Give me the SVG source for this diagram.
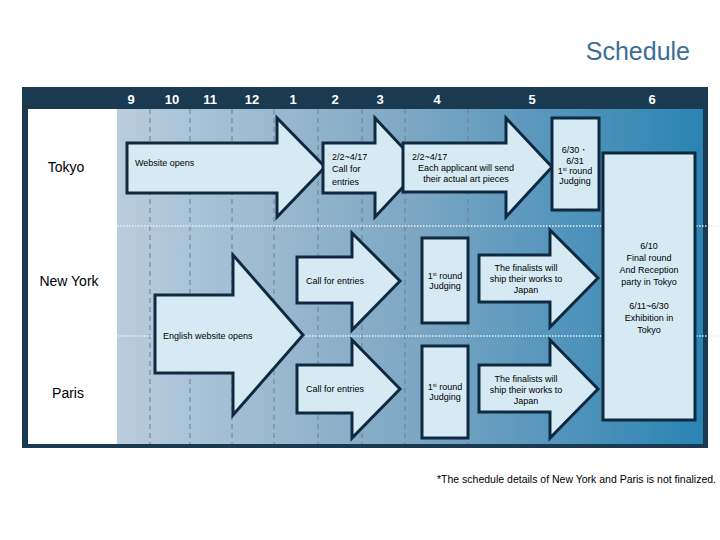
<svg xmlns="http://www.w3.org/2000/svg" width="720" height="540" viewBox="0 0 720 540">
<style>
text{font-family:"Liberation Sans",Arial,sans-serif;}
.m{fill:#fff;font-size:13px;font-weight:bold;text-anchor:middle;}
.city{fill:#000;font-size:14px;text-anchor:middle;}
.s{fill:#000;font-size:9px;}
.c{text-anchor:middle;}
.shape{fill:#d6eaf4;stroke:#0f2a40;stroke-width:3;stroke-linejoin:miter;}
.dash{stroke:#6a7f92;stroke-width:1;stroke-dasharray:5,4;}
.dot{stroke:#e8f1f8;stroke-width:1.5;stroke-dasharray:1.5,1.5;}
</style>
<defs>
<linearGradient id="g" x1="0" y1="0" x2="1" y2="0">
<stop offset="0" stop-color="#b9cddd"/>
<stop offset="0.5" stop-color="#7ea7c4"/>
<stop offset="1" stop-color="#2a84b3"/>
</linearGradient>
</defs>
<rect width="720" height="540" fill="#fff"/>
<text x="690" y="60" font-size="25" fill="#3b6e95" text-anchor="end">Schedule</text>
<rect x="22" y="87" width="686" height="361" fill="#1a3a52"/>
<rect x="28" y="109" width="89" height="335" fill="#fff"/>
<rect x="117" y="109" width="586" height="335" fill="url(#g)"/>
<g id="months">
<text class="m" x="131" y="104">9</text>
<text class="m" x="172" y="104">10</text>
<text class="m" x="210" y="104">11</text>
<text class="m" x="252" y="104">12</text>
<text class="m" x="293" y="104">1</text>
<text class="m" x="335" y="104">2</text>
<text class="m" x="380" y="104">3</text>
<text class="m" x="437" y="104">4</text>
<text class="m" x="532" y="104">5</text>
<text class="m" x="652" y="104">6</text>
</g>
<g id="grid">
<line class="dash" x1="150" y1="109" x2="150" y2="444"/>
<line class="dash" x1="190" y1="109" x2="190" y2="444"/>
<line class="dash" x1="232" y1="109" x2="232" y2="444"/>
<line class="dash" x1="274" y1="109" x2="274" y2="444"/>
<line class="dash" x1="318" y1="109" x2="318" y2="444"/>
<line class="dash" x1="362" y1="109" x2="362" y2="444"/>
<line class="dash" x1="405" y1="109" x2="405" y2="444"/>
<line class="dash" x1="468" y1="109" x2="468" y2="444"/>
<line class="dash" x1="600" y1="109" x2="600" y2="444"/>
<line class="dot" x1="117" y1="226" x2="720" y2="226"/>
<line class="dot" x1="117" y1="336" x2="720" y2="336"/>
</g>
<g id="labels">
<text class="city" x="66" y="172">Tokyo</text>
<text class="city" x="69" y="286">New York</text>
<text class="city" x="68" y="398">Paris</text>
</g>
<g id="tokyo-web">
<path class="shape" d="M127,143 H277 V118 L325,167 L277,217 V193 H127 Z"/>
<text class="s" x="135" y="166">Website opens</text>
</g>
<g id="tokyo-call">
<path class="shape" d="M323,143 H375 V118 L405,150 V185 L375,217 V193 H323 Z"/>
<text class="s" x="332" y="160" font-size="9.5">2/2~4/17</text>
<text class="s" x="332" y="172" font-size="9.5">Call for</text>
<text class="s" x="332" y="185" font-size="9.5">entries</text>
</g>
<g id="tokyo-send">
<path class="shape" d="M403,143 H506 V118 L552,167 L506,217 V192 H403 Z"/>
<text class="s" x="412" y="160">2/2~4/17</text>
<text class="s c" x="466" y="171">Each applicant will send</text>
<text class="s c" x="466" y="182">their actual art pieces</text>
</g>
<g id="tokyo-judge">
<rect class="shape" x="552" y="118" width="47" height="92"/>
<text class="s c" x="575" y="153" font-size="8.5">6/30・</text>
<text class="s c" x="575" y="164" font-size="8.5">6/31</text>
<text class="s c" x="575" y="174" font-size="8">1<tspan font-size="5" dy="-3">st</tspan><tspan dy="3"> round</tspan></text>
<text class="s c" x="575" y="184" font-size="8.5">Judging</text>
</g>
<g id="final">
<rect class="shape" x="603" y="153" width="92" height="267"/>
<text class="s c" x="649" y="249">6/10</text>
<text class="s c" x="649" y="261">Final round</text>
<text class="s c" x="649" y="273">And Reception</text>
<text class="s c" x="649" y="285">party in Tokyo</text>
<text class="s c" x="649" y="309">6/11~6/30</text>
<text class="s c" x="649" y="321">Exhibition in</text>
<text class="s c" x="649" y="333">Tokyo</text>
</g>
<g id="english-web">
<path class="shape" d="M155,295 H233 V255 L303,335 L233,415 V373 H155 Z"/>
<text class="s" x="163" y="339">English website opens</text>
</g>
<g id="ny-call">
<path class="shape" d="M297,257 H352 V233 L400,281 L352,330 V303 H297 Z"/>
<text class="s" x="306" y="284">Call for entries</text>
</g>
<g id="paris-call">
<path class="shape" d="M297,365 H352 V340 L400,389 L352,438 V413 H297 Z"/>
<text class="s" x="306" y="392">Call for entries</text>
</g>
<g id="ny-judge">
<rect class="shape" x="422" y="238" width="46" height="85"/>
<text class="s c" x="445" y="279" font-size="8">1<tspan font-size="5" dy="-3">st</tspan><tspan dy="3"> round</tspan></text>
<text class="s c" x="445" y="289" font-size="8">Judging</text>
</g>
<g id="paris-judge">
<rect class="shape" x="422" y="346" width="46" height="92"/>
<text class="s c" x="445" y="390" font-size="8">1<tspan font-size="5" dy="-3">st</tspan><tspan dy="3"> round</tspan></text>
<text class="s c" x="445" y="400" font-size="8">Judging</text>
</g>
<g id="ny-ship">
<path class="shape" d="M479,255 H550 V230 L598,278 L550,327 V302 H479 Z"/>
<text class="s c" x="526" y="271">The finalists will</text>
<text class="s c" x="526" y="282">ship their works to</text>
<text class="s c" x="526" y="293">Japan</text>
</g>
<g id="paris-ship">
<path class="shape" d="M479,365 H550 V340 L598,389 L550,438 V412 H479 Z"/>
<text class="s c" x="526" y="382">The finalists will</text>
<text class="s c" x="526" y="393">ship their works to</text>
<text class="s c" x="526" y="404">Japan</text>
</g>
<text x="716" y="483" font-size="10.5" fill="#000" text-anchor="end">*The schedule details of New York and Paris is not finalized.</text>
</svg>
